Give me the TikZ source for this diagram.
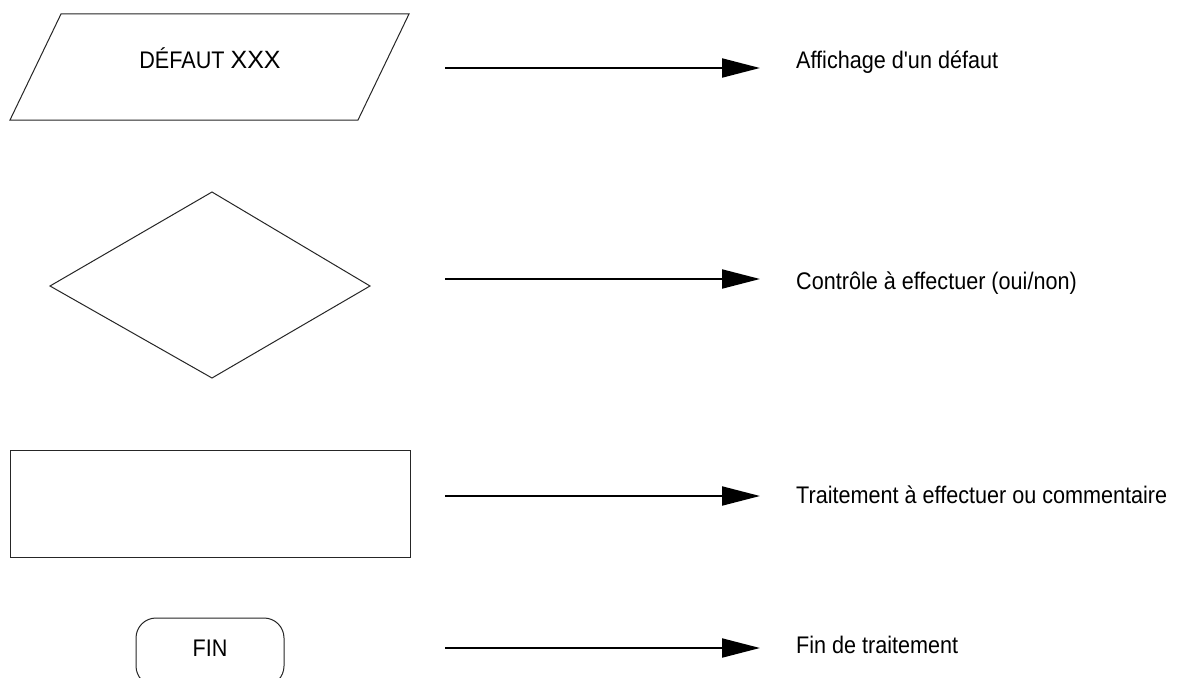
\documentclass[tikz,border=0pt]{standalone}
\usepackage{fontspec}
\setmainfont{Liberation Sans}
\newfontfamily\narrowfont{Liberation Sans}[FakeStretch=0.9]
\usetikzlibrary{arrows.meta}
\begin{document}
\begin{tikzpicture}[x=1pt,y=-1pt,
  shapeline/.style={draw=black!85, line width=1pt},
  conn/.style={line width=2pt, -{Triangle[length=38pt,width=19pt]}},
  lbl/.style={anchor=base west, inner sep=0pt, font=\narrowfont\fontsize{24}{28}\selectfont},
  inlbl/.style={anchor=base, inner sep=0pt, font=\narrowfont\fontsize{24}{28}\selectfont}]
\clip (0,0) rectangle (1177,677);
\fill[white] (0,0) rectangle (1177,677);
% shapes
\draw[shapeline] (61,14) -- (409,14) -- (358,120) -- (10,120) -- cycle;
\node[inlbl] (defaut) at (210,69) {DÉFAUT {\normalfont\fontsize{25}{28}\selectfont XXX}};
\draw[shapeline] (212,192) -- (370,286) -- (212,378) -- (50,286) -- cycle;
\draw[shapeline] (10,450) rectangle (410,557);
\draw[shapeline, rounded corners=20pt] (136,618) rectangle (284,686);
\node[inlbl] (fin) at (210,656) {FIN};
% arrows
\coordinate (s1) at (445,68);  \coordinate (e1) at (760,68);
\coordinate (s2) at (445,279); \coordinate (e2) at (760,279);
\coordinate (s3) at (445,496); \coordinate (e3) at (760,496);
\coordinate (s4) at (445,648); \coordinate (e4) at (760,648);
\draw[conn] (s1) -- (e1);
\draw[conn] (s2) -- (e2);
\draw[conn] (s3) -- (e3);
\draw[conn] (s4) -- (e4);
% labels
\node[lbl] (l1) at (796,68) {Affichage d'un défaut};
\node[lbl] (l2) at (796,289) {Contrôle à effectuer (oui/non)};
\node[lbl] (l3) at (796,503) {Traitement à effectuer ou commentaire};
\node[lbl] (l4) at (796,653) {Fin de traitement};
\end{tikzpicture}
\end{document}
